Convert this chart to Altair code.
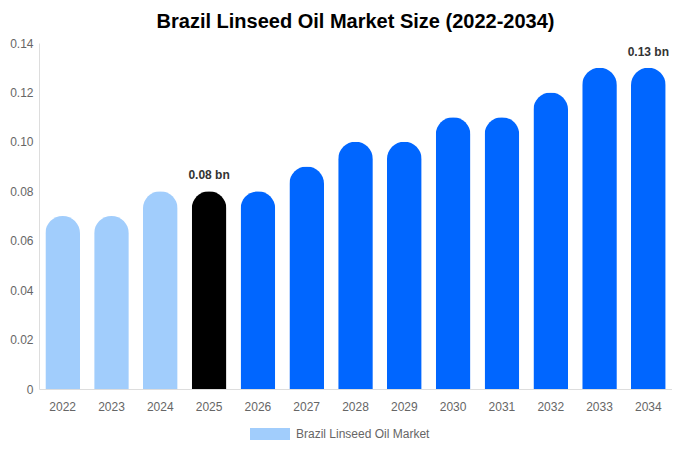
import altair as alt
import pandas as pd

years = ["2022", "2023", "2024", "2025", "2026", "2027", "2028", "2029", "2030", "2031", "2032", "2033", "2034"]
values = [0.07, 0.07, 0.08, 0.08, 0.08, 0.09, 0.10, 0.10, 0.11, 0.11, 0.12, 0.13, 0.13]
bar_colors = ["#a1cdfc", "#a1cdfc", "#a1cdfc", "#000000", "#0066ff", "#0066ff", "#0066ff",
              "#0066ff", "#0066ff", "#0066ff", "#0066ff", "#0066ff", "#0066ff"]
labels = ["", "", "", "0.08 bn", "", "", "", "", "", "", "", "", "0.13 bn"]
series_name = "Brazil Linseed Oil Market"

df = pd.DataFrame({
    "year": years,
    "value": values,
    "hex": bar_colors,
    "label": labels,
    "series": [series_name] * len(years),
})

font = "Liberation Sans"

x = alt.X("year:N", sort=years, title=None,
          scale=alt.Scale(paddingInner=0.29, paddingOuter=0.13),
          axis=alt.Axis(labelAngle=0, labelColor="#666666", labelFontSize=12, labelFont=font,
                        ticks=False, domainColor="#dddddd", labelPadding=12))
y = alt.Y("value:Q", title=None,
          scale=alt.Scale(domain=[0, 0.14], nice=False),
          axis=alt.Axis(values=[0, 0.02, 0.04, 0.06, 0.08, 0.10, 0.12, 0.14],
                        labelExpr="datum.value == 0 ? '0' : format(datum.value, '.2f')",
                        grid=False, ticks=False, domainColor="#dddddd",
                        labelColor="#666666", labelFontSize=12, labelFont=font, labelPadding=6))

bars = alt.Chart(df).mark_bar(cornerRadiusTopLeft=17.5, cornerRadiusTopRight=17.5).encode(
    x=x,
    y=y,
    fill=alt.Fill("hex:N", scale=None),
)

legend_layer = alt.Chart(df).mark_point(opacity=0, filled=True).encode(
    x=alt.X("year:N", sort=years),
    y=alt.Y("value:Q"),
    color=alt.Color("series:N", scale=alt.Scale(range=["#a1cdfc"]), title=None,
                    legend=alt.Legend(orient="none", legendX=211, legendY=371,
                                      direction="horizontal",
                                      symbolType="M-1,-0.3H1V0.3H-1Z",
                                      symbolSize=1600, symbolOpacity=1, symbolStrokeWidth=0,
                                      labelOffset=6,
                                      labelColor="#666666", labelFontSize=12, labelFont=font)),
)

text = alt.Chart(df).transform_filter("datum.label != ''").mark_text(
    dy=-16, fontWeight="bold", fontSize=12, font=font, color="#333333"
).encode(
    x=alt.X("year:N", sort=years),
    y=alt.Y("value:Q"),
    text="label:N",
)

chart = alt.layer(bars, legend_layer, text).properties(
    width=633, height=346,
    autosize=alt.AutoSizeParams(type="none"),
    padding={"left": 31, "top": 35, "right": 0, "bottom": 53},
    title=alt.Title("Brazil Linseed Oil Market Size (2022-2034)", fontSize=20, font=font,
                    fontWeight="bold", color="#000000", offset=5, anchor="middle"),
).configure_view(stroke=None)

chart.save("out.html", embed_options={"renderer": "svg", "actions": False})
